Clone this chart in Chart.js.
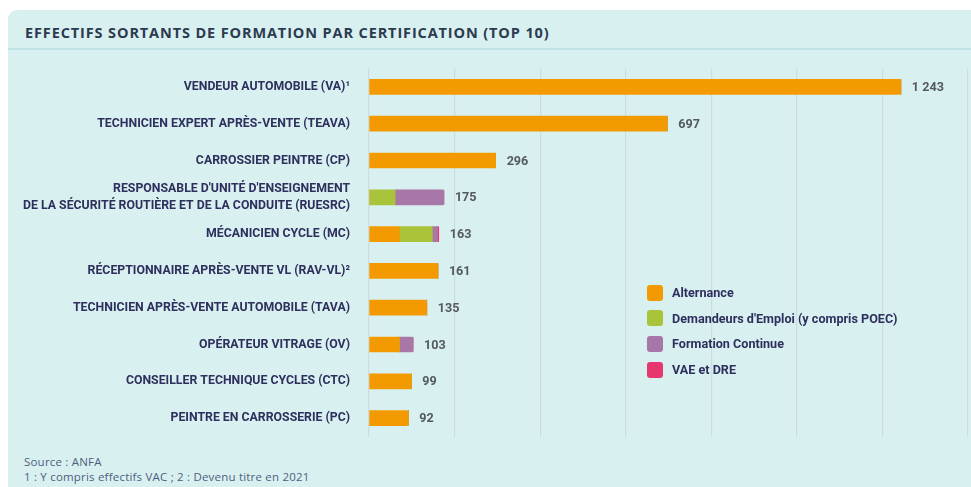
<!DOCTYPE html>
<html lang="fr">
<head>
<meta charset="utf-8">
<script src="https://cdn.jsdelivr.net/npm/chart.js@4.4.0/dist/chart.umd.min.js"></script>
<style>
  body { margin: 0; background: #fff; width: 971px; height: 487px; overflow: hidden; position: relative; }
  .card { position: absolute; left: 8px; top: 10px; right: 0; bottom: 0; background: #d9f0f1; border-top-left-radius: 9px; }
  .title { position: absolute; left: 17px; top: 13px; font: 700 14.5px 'Open Sans', sans-serif; color: #2c3a4f; letter-spacing: 0.88px; }
  .rule { position: absolute; left: 0; right: 0; top: 38px; height: 2px; background: #bfe2e6; }
  .foot { position: absolute; left: 16px; top: 445px; font: 400 11.5px 'Open Sans', sans-serif; color: #4d5f7d; line-height: 14.5px; letter-spacing: 0.2px; }
  #chart { position: absolute; left: 0; top: 0; }
  .legend { position: absolute; left: 647px; top: 280px; font: 700 12.6px Roboto, sans-serif; color: #2e2f5c; }
  .legend div { height: 25.6px; display: flex; align-items: center; }
  .legend span.box { width: 16px; height: 16px; border-radius: 3px; margin-right: 9px; display: inline-block; }
</style>
</head>
<body>
<div class="card">
  <div class="title">EFFECTIFS SORTANTS DE FORMATION PAR CERTIFICATION (TOP 10)</div>
  <div class="rule"></div>
  <div class="foot">Source : ANFA<br>1 : Y compris effectifs VAC ; 2 : Devenu titre en 2021</div>
</div>
<canvas id="chart" width="971" height="487"></canvas>
<div class="legend" id="legend"></div>
<script>
// Certifications (top to bottom)
const certifications = [
  'VENDEUR AUTOMOBILE (VA)¹',
  'TECHNICIEN EXPERT APRÈS-VENTE (TEAVA)',
  'CARROSSIER PEINTRE (CP)',
  ['RESPONSABLE D\'UNITÉ D\'ENSEIGNEMENT', 'DE LA SÉCURITÉ ROUTIÈRE ET DE LA CONDUITE (RUESRC)'],
  'MÉCANICIEN CYCLE (MC)',
  'RÉCEPTIONNAIRE APRÈS-VENTE VL (RAV-VL)²',
  'TECHNICIEN APRÈS-VENTE AUTOMOBILE (TAVA)',
  'OPÉRATEUR VITRAGE (OV)',
  'CONSEILLER TECHNIQUE CYCLES (CTC)',
  'PEINTRE EN CARROSSERIE (PC)'
];

// Values per public
const alternance = [1243, 697, 296, 0, 71, 161, 135, 71, 99, 92];
const demandeurs = [0, 0, 0, 61, 77, 0, 0, 0, 0, 0];
const formationContinue = [0, 0, 0, 114, 12, 0, 0, 32, 0, 0];
const vaeDre = [0, 0, 0, 0, 3, 0, 0, 0, 0, 0];

const seriesNames = ['Alternance', 'Demandeurs d\'Emploi (y compris POEC)', 'Formation Continue', 'VAE et DRE'];
const seriesColors = ['#f39a00', '#a9c33b', '#a677a7', '#e8376f'];
const seriesData = [alternance, demandeurs, formationContinue, vaeDre];

// Total at the end of each bar
const totalLabels = {
  id: 'totalLabels',
  afterDatasetsDraw(chart) {
    const ctx = chart.ctx;
    const x = chart.scales.x;
    const y = chart.scales.y;
    ctx.save();
    ctx.font = "700 12.6px Roboto, sans-serif";
    ctx.fillStyle = '#555a5f';
    ctx.textBaseline = 'middle';
    certifications.forEach((c, i) => {
      const total = seriesData.reduce((s, d) => s + d[i], 0);
      const txt = total.toLocaleString('fr-FR').replace(/\s/g, ' ');
      ctx.fillText(txt, x.getPixelForValue(total) + 11, y.getPixelForValue(i) + 1);
    });
    ctx.restore();
  }
};

const ctx = document.getElementById('chart').getContext('2d');
const chart = new Chart(ctx, {
  type: 'bar',
  data: {
    labels: certifications,
    datasets: seriesData.map((d, i) => ({
      label: seriesNames[i],
      data: d,
      backgroundColor: seriesColors[i],
      barThickness: 15,
      borderRadius: 2,
      borderSkipped: 'start'
    }))
  },
  options: {
    indexAxis: 'y',
    responsive: false,
    animation: false,
    layout: { padding: { left: 0, right: 3, top: 68.5, bottom: 50.5 } },
    plugins: { legend: { display: false }, tooltip: { enabled: false } },
    scales: {
      x: {
        stacked: true,
        min: 0,
        max: 1400,
        ticks: { display: false, stepSize: 200 },
        grid: { color: '#cfdcdc', lineWidth: 1.2, drawTicks: false },
        border: { display: false },
        afterFit: s => { s.height = 0; }
      },
      y: {
        stacked: true,
        grid: { display: false, drawTicks: false },
        border: { display: false },
        ticks: {
          padding: 19,
          color: '#2e2f5c',
          font: { family: "Roboto, sans-serif", size: 12.3, weight: '700', lineHeight: 1.35 }
        },
        afterFit: s => { s.width = 369; }
      }
    }
  },
  plugins: [totalLabels]
});

// HTML legend
const legend = document.getElementById('legend');
seriesNames.forEach((n, i) => {
  const row = document.createElement('div');
  const box = document.createElement('span');
  box.className = 'box';
  box.style.background = seriesColors[i];
  row.appendChild(box);
  row.appendChild(document.createTextNode(n));
  legend.appendChild(row);
});
</script>
</body>
</html>
